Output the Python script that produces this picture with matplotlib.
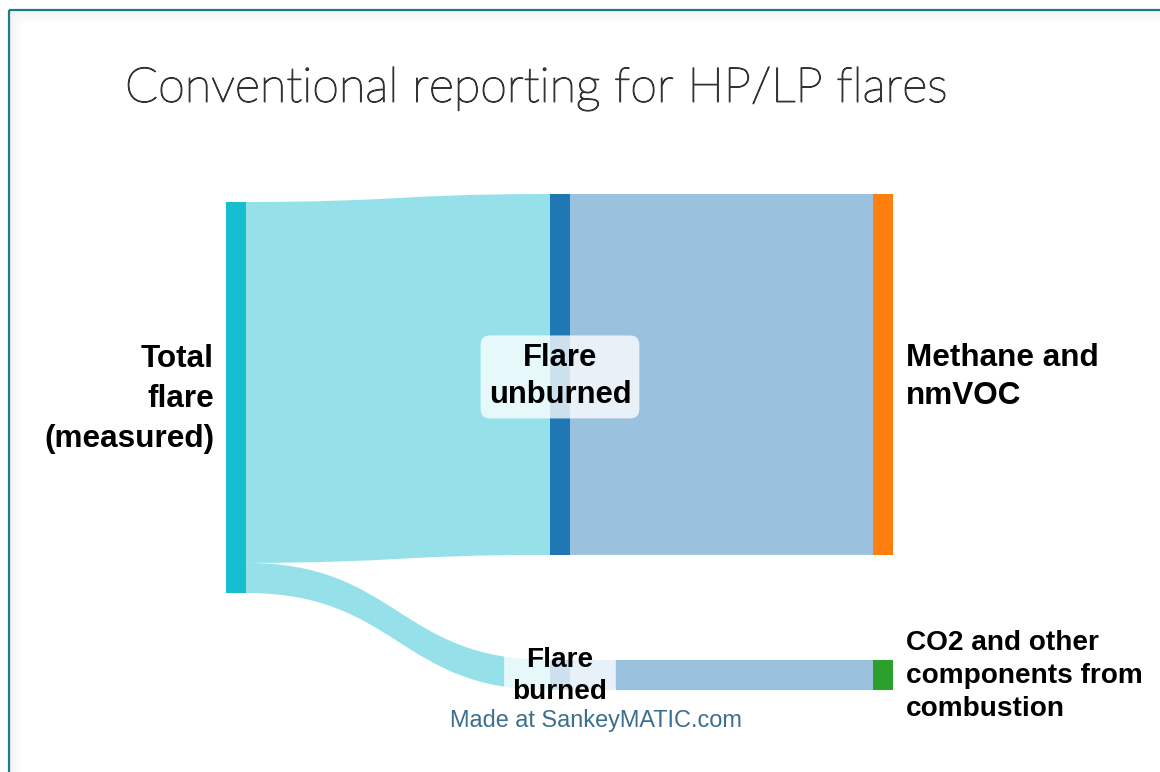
import matplotlib
matplotlib.use("Agg")
import matplotlib.pyplot as plt
import matplotlib.patheffects as pe
from matplotlib.path import Path
from matplotlib.patches import PathPatch, Rectangle

# ---------------- data ----------------
nodes = ["Total flare (measured)", "Flare unburned", "Flare burned",
         "Methane and nmVOC", "CO2 and other components from combustion"]
node_labels = ["Total\nflare\n(measured)", "Flare\nunburned", "Flare\nburned",
               "Methane and\nnmVOC", "CO2 and other\ncomponents from\ncombustion"]
flow_src = [0, 0, 1, 2]
flow_tgt = [1, 2, 3, 4]
flow_val = [92.3, 7.7, 92.3, 7.7]
node_colors = ["#17BECF", "#1F77B4", "#1F77B4", "#FF7F0E", "#2CA02C"]
title = "Conventional reporting for HP/LP flares"
credit = "Made at SankeyMATIC.com"

# ---------------- layout (pixels) ----------------
W, H = 1160, 772
px_per_unit = 3.91
node_w = 20
node_x = [226, 550, 550, 873, 873]
node_top = [202, 194, 660, 194, 660]
flow_alpha = 0.45
curv = 0.5

fig = plt.figure(figsize=(W / 100, H / 100), dpi=100)
ax = fig.add_axes([0, 0, 1, 1])
ax.set_xlim(0, W)
ax.set_ylim(H, 0)
ax.axis("off")

# frame with shadow
for i in range(12):
    a = 0.045 * (1 - i / 12)
    ax.add_patch(Rectangle((9 + i, 11 + i), W, 0.9, color="#000000", alpha=a, lw=0, zorder=0))
    ax.add_patch(Rectangle((10 + i, 11 + i), 0.9, H, color="#000000", alpha=a, lw=0, zorder=0))
ax.plot([9, W + 5], [10, 10], color="#1B7C84", lw=1.6, solid_capstyle="butt", zorder=1)
ax.plot([9, 9], [10, H + 5], color="#1B7C84", lw=1.6, solid_capstyle="butt", zorder=1)

# node sizes
n = len(nodes)
in_sum = [0.0] * n
out_sum = [0.0] * n
for s, t, v in zip(flow_src, flow_tgt, flow_val):
    out_sum[s] += v
    in_sum[t] += v
node_val = [max(a, b) for a, b in zip(in_sum, out_sum)]

out_off = [0.0] * n
in_off = [0.0] * n
for s, t, v in zip(flow_src, flow_tgt, flow_val):
    h = v * px_per_unit
    x0 = node_x[s] + node_w
    x1 = node_x[t]
    y0t = node_top[s] + out_off[s]
    y1t = node_top[t] + in_off[t]
    out_off[s] += h
    in_off[t] += h
    xm0 = x0 + (x1 - x0) * curv
    xm1 = x1 - (x1 - x0) * curv
    verts = [(x0, y0t), (xm0, y0t), (xm1, y1t), (x1, y1t),
             (x1, y1t + h), (xm1, y1t + h), (xm0, y0t + h), (x0, y0t + h), (x0, y0t)]
    codes = [Path.MOVETO, Path.CURVE4, Path.CURVE4, Path.CURVE4,
             Path.LINETO, Path.CURVE4, Path.CURVE4, Path.CURVE4, Path.CLOSEPOLY]
    ax.add_patch(PathPatch(Path(verts, codes), facecolor=node_colors[s],
                           alpha=flow_alpha, edgecolor="none", zorder=2))

for i in range(n):
    ax.add_patch(Rectangle((node_x[i], node_top[i]), node_w, node_val[i] * px_per_unit,
                           facecolor=node_colors[i], edgecolor="none", zorder=3))

font = ["Liberation Sans", "DejaVu Sans"]
px = 72 / 100  # pixel -> point


def ncy(i):
    return node_top[i] + node_val[i] * px_per_unit / 2


# labels
ax.text(node_x[0] - 12, ncy(0) + 1.5, node_labels[0], ha="right", va="center",
        fontsize=31.5 * px, fontweight="bold", family=font, linespacing=1.42, zorder=5)
ax.text(node_x[3] + node_w + 13, ncy(3) + 2.5, node_labels[3], ha="left", va="center",
        fontsize=31.5 * px, fontweight="bold", family=font, linespacing=1.33, zorder=5)
ax.text(node_x[4] + node_w + 13, ncy(4) + 1, node_labels[4], ha="left", va="center",
        fontsize=28 * px, fontweight="bold", family=font, linespacing=1.37, zorder=5)
ax.text(node_x[1] + node_w / 2, ncy(1) + 2.5, node_labels[1], ha="center", va="center",
        fontsize=31 * px, fontweight="bold", family=font, linespacing=1.3, zorder=5,
        bbox=dict(boxstyle="round,pad=0.26,rounding_size=0.3", fc="white", ec="none", alpha=0.78))
ax.text(node_x[2] + node_w / 2, ncy(2) + 1, node_labels[2], ha="center", va="center",
        fontsize=28 * px, fontweight="bold", family=font, linespacing=1.33, zorder=5,
        bbox=dict(boxstyle="round,pad=0.3,rounding_size=0.3", fc="white", ec="none", alpha=0.78))

ax.text(596, 720, credit, ha="center", va="center", fontsize=23.5 * px, family=font,
        color="#3B6F8E", zorder=5)

ax.text(125, 89, title, ha="left", va="center", fontsize=48.5 * px, family=["Lato", "DejaVu Sans"],
        fontweight="light", color="#333333", zorder=5,
        path_effects=[pe.withStroke(linewidth=0.9, foreground="#333333")])

fig.savefig("out.png", dpi=100)
